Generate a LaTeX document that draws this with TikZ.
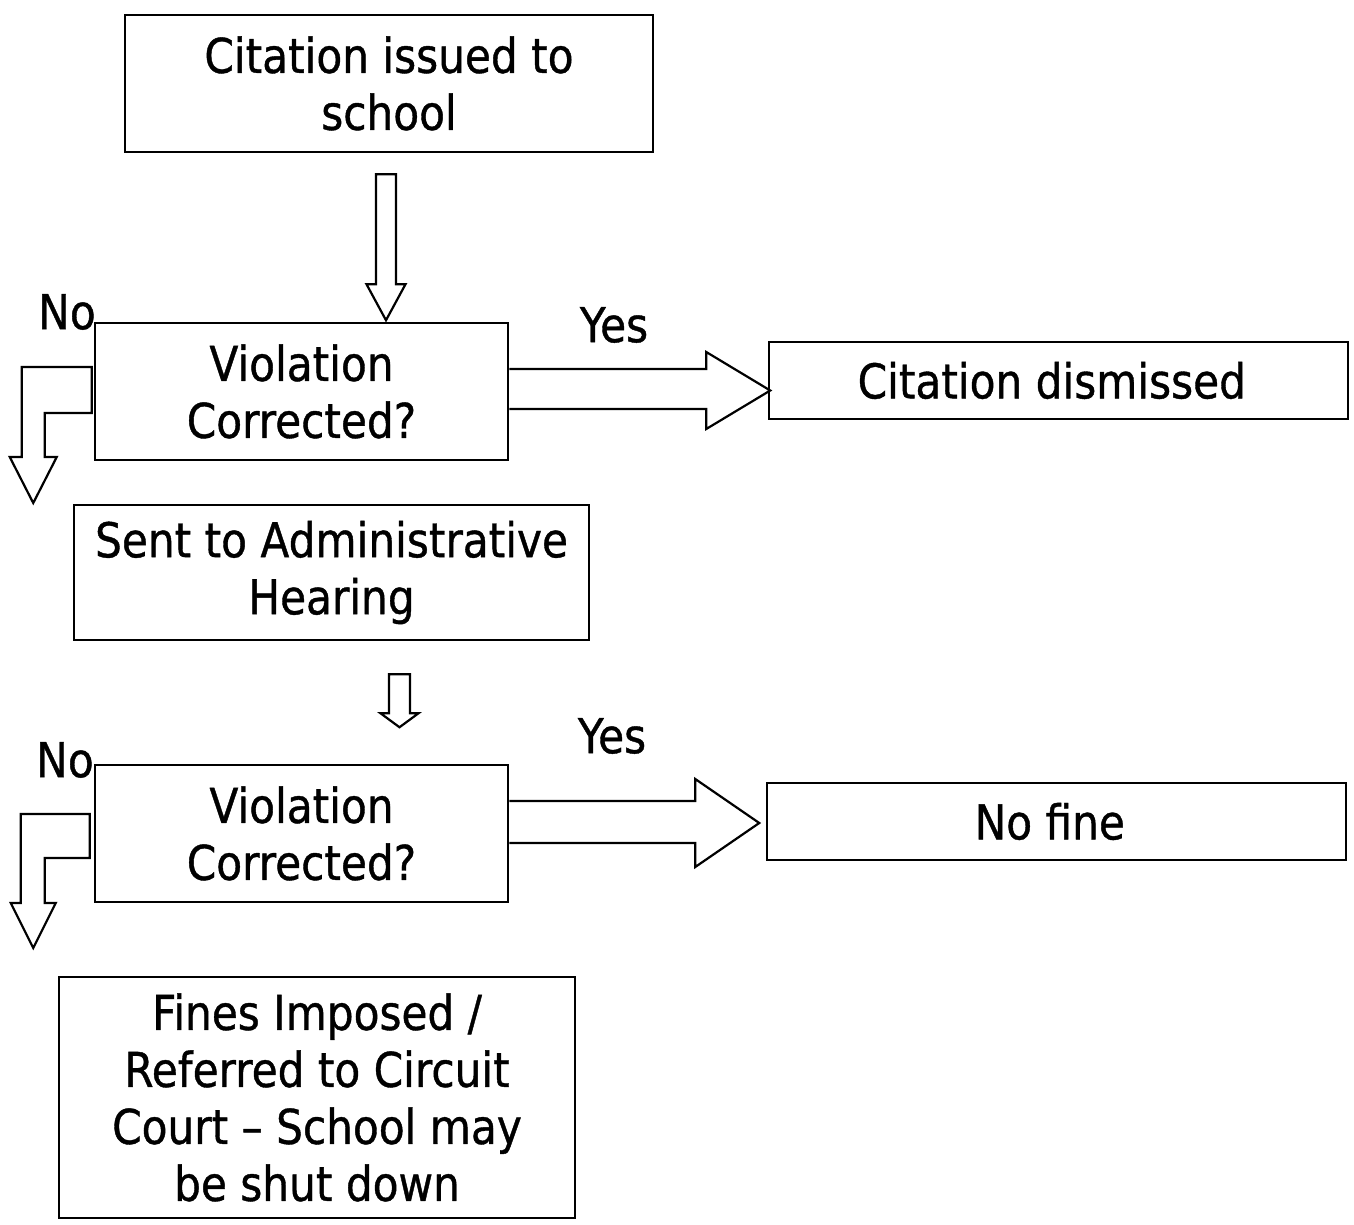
\documentclass[tikz,border=0pt]{standalone}
\usepackage{fontspec}
\setmainfont{DejaVu Sans}[FakeStretch = 0.88, FakeBold = 0.8]

\begin{document}
\begin{tikzpicture}[x = 1pt, y = -1pt,
		box/.style = {draw, line width = 2.5pt, inner sep = 0pt, align = center, font = \fontsize{48}{57}\selectfont},
		answer/.style = {inner sep = 0pt, font = \fontsize{48}{57}\selectfont},
		blockarrow/.style = {draw, line width = 2.2pt, line join = miter}]
		\useasboundingbox (0,0) rectangle (1354,1225);
		%
		\node [box, minimum width = 528pt, minimum height = 137pt] (cit) at (389,83.5){Citation issued to\\school
		};
		\node [box, minimum width = 413pt, minimum height = 137pt] (vc1) at (301.5,391.5){Violation\\Corrected?
		};
		\node [box, minimum width = 579pt, minimum height = 77pt] (dis) at (1058.5,380.5){Citation dismissed
		};
		\node [box, minimum width = 515pt, minimum height = 135pt] (adm) at (331.5,572.5){Sent to Administrative\\Hearing
		};
		\node [box, minimum width = 413pt, minimum height = 137pt] (vc2) at (301.5,833.5){Violation\\Corrected?
		};
		\node [box, minimum width = 579pt, minimum height = 77pt] (nofine) at (1056.5,821.5){No fine
		};
		\node [box, minimum width = 516pt, minimum height = 241pt] (fines) at (317,1097.5){Fines Imposed /\\Referred to Circuit\\Court – School may\\be shut down
		};
		%
		\node [answer] (no1) at (67,312){No
		};
		\node [answer] (yes1) at (614,325){Yes
		};
		\node [answer] (no2) at (65,760){No
		};
		\node [answer] (yes2) at (612,736){Yes
		};
		%
		\draw [blockarrow](cit.south) ++(-13,21) -- ++(20,0) -- ++(0,110) -- ++(9.5,0) -- ++(-19.5,36) -- ++(-19.5,-36) -- ++(9.5,0) -- cycle;
		\draw [blockarrow](vc1.east) ++(0,-22.5) -- ++(197,0) -- ++(0,-17) -- ++(64,38.5) -- ++(-64,38.5) -- ++(0,-20) -- ++(-197,0);
		\draw [blockarrow](vc1.west) ++(-2,-24.5) -- ++(0,46) -- ++(-47,0) -- ++(0,44) -- ++(12,0) -- ++(-23.5,46) -- ++(-23.5,-46) -- ++(12,0) -- ++(0,-90) -- cycle;
		\draw [blockarrow](adm.south) ++(57.5,33) -- ++(21,0) -- ++(0,39) -- ++(8.5,0) -- ++(-19,14) -- ++(-19,-14) -- ++(8.5,0) -- cycle;
		\draw [blockarrow](vc2.east) ++(0,-32.5) -- ++(186,0) -- ++(0,-22) -- ++(64,44) -- ++(-64,44) -- ++(0,-24) -- ++(-186,0);
		\draw [blockarrow](vc2.west) ++(-4,-19.5) -- ++(0,44) -- ++(-45,0) -- ++(0,45) -- ++(11,0) -- ++(-22.5,45) -- ++(-22.5,-45) -- ++(10,0) -- ++(0,-89) -- cycle;
	\end{tikzpicture}
\end{document}
